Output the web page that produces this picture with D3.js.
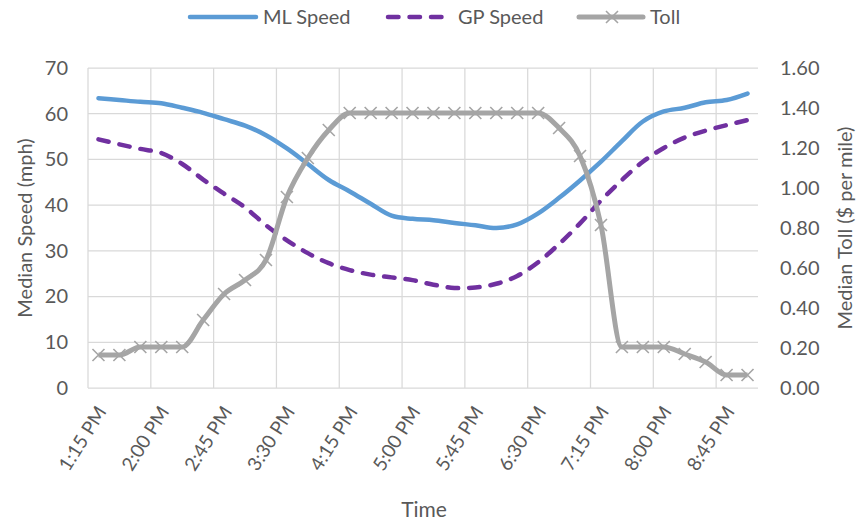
<!DOCTYPE html>
<meta charset="utf-8">
<style>
    body { margin: 0; background: #fff; }
    text { font-family: Lato, "Open Sans", sans-serif; fill: #595959; }
    .grid line { stroke: #d9d9d9; stroke-width: 1.25px; }
    .line { fill: none; }
</style>
<svg width="860" height="522"></svg>
<script src="https://d3js.org/d3.v7.min.js"></script>
<script>

    // categories: one every 15 minutes
    var times = ["1:15 PM", "1:30 PM", "1:45 PM", "2:00 PM", "2:15 PM", "2:30 PM", "2:45 PM", "3:00 PM",
        "3:15 PM", "3:30 PM", "3:45 PM", "4:00 PM", "4:15 PM", "4:30 PM", "4:45 PM", "5:00 PM",
        "5:15 PM", "5:30 PM", "5:45 PM", "6:00 PM", "6:15 PM", "6:30 PM", "6:45 PM", "7:00 PM",
        "7:15 PM", "7:30 PM", "7:45 PM", "8:00 PM", "8:15 PM", "8:30 PM", "8:45 PM", "9:00 PM"];

    // median speeds (mph)
    var mlSpeed = [63.4, 63.0, 62.6, 62.3, 61.3, 60.2, 58.8, 57.4, 55.3, 52.4, 49.0, 45.5,
        43.0, 40.3, 37.7, 37.0, 36.7, 36.1, 35.6, 35.0, 35.8, 38.2, 41.6, 45.4,
        49.5, 54.0, 58.3, 60.5, 61.3, 62.5, 63.0, 64.4];
    var gpSpeed = [54.4, 53.3, 52.3, 51.4, 49.0, 45.6, 42.5, 39.5, 35.6, 32.3, 29.5, 27.3,
        25.8, 24.8, 24.2, 23.6, 22.6, 21.9, 22.0, 22.8, 24.5, 27.5, 31.5, 36.0,
        41.0, 45.5, 49.5, 52.5, 54.8, 56.3, 57.5, 58.6];

    // median toll ($ per mile)
    var toll = [0.165, 0.165, 0.205, 0.205, 0.205, 0.34, 0.47, 0.54, 0.64, 0.955, 1.15, 1.29,
        1.375, 1.375, 1.375, 1.375, 1.375, 1.375, 1.375, 1.375, 1.375, 1.375, 1.30, 1.16,
        0.815, 0.205, 0.205, 0.205, 0.17, 0.13, 0.065, 0.065];

    var speedTicks = [0, 10, 20, 30, 40, 50, 60, 70];
    var tollTicks = [0, 0.2, 0.4, 0.6, 0.8, 1.0, 1.2, 1.4, 1.6];

    var svg = d3.select("svg"),
        margin = {top: 68, right: 102, bottom: 134, left: 88},
        width = svg.attr("width") - margin.left - margin.right,
        height = svg.attr("height") - margin.top - margin.bottom,
        g = svg.append("g").attr("transform", "translate(" + margin.left + "," + margin.top + ")");

    var x = d3.scaleBand().domain(times).range([0, width]).padding(0),
        y = d3.scaleLinear().domain([0, 70]).range([height, 0]),
        y2 = d3.scaleLinear().domain([0, 1.6]).range([height, 0]);

    var cx = function(i) { return x(times[i]) + x.bandwidth() / 2; };

    // gridlines: horizontal at speed ticks, vertical every 3rd category boundary
    var grid = g.append("g").attr("class", "grid");
    grid.selectAll(".h")
        .data(speedTicks)
        .enter().append("line")
        .attr("x1", 0).attr("x2", width)
        .attr("y1", d => y(d)).attr("y2", d => y(d));
    grid.selectAll(".v")
        .data(times.filter((t, i) => i % 3 === 0))
        .enter().append("line")
        .attr("x1", d => x(d)).attr("x2", d => x(d))
        .attr("y1", 0).attr("y2", height);

    // left axis
    var yAxis = g.append("g")
        .call(d3.axisLeft(y).tickValues(speedTicks).tickSize(0).tickPadding(20));
    yAxis.select(".domain").remove();
    yAxis.selectAll("text").attr("font-size", "20px").attr("fill", "#595959").style("font-family", null);

    // right axis
    var y2Axis = g.append("g")
        .attr("transform", "translate(" + width + ",0)")
        .call(d3.axisRight(y2).tickValues(tollTicks).tickSize(0).tickPadding(22).tickFormat(d3.format(".2f")));
    y2Axis.select(".domain").remove();
    y2Axis.selectAll("text").attr("font-size", "20px").attr("fill", "#595959").style("font-family", null);

    // x labels, every third category, rotated
    g.selectAll(".xlabel")
        .data(times.filter((t, i) => i % 3 === 0))
        .enter().append("text")
        .attr("class", "xlabel")
        .attr("transform", d => "translate(" + (x(d) + x.bandwidth() / 2 + 3) + "," + (height + 20) + ") rotate(-58)")
        .attr("text-anchor", "end")
        .attr("dy", "0.35em")
        .attr("font-size", "19px")
        .text(d => d);

    // axis titles
    svg.append("text")
        .attr("transform", "translate(32," + (margin.top + height / 2) + ") rotate(-90)")
        .attr("text-anchor", "middle")
        .attr("font-size", "20px")
        .text("Median Speed (mph)");

    svg.append("text")
        .attr("transform", "translate(852," + (margin.top + height / 2) + ") rotate(-90)")
        .attr("text-anchor", "middle")
        .attr("font-size", "20px")
        .text("Median Toll ($ per mile)");

    svg.append("text")
        .attr("x", 424)
        .attr("y", 517)
        .attr("text-anchor", "middle")
        .attr("font-size", "21px")
        .text("Time");

    // lines
    var speedLine = d3.line()
        .curve(d3.curveCatmullRom.alpha(0.5))
        .x((d, i) => cx(i))
        .y(d => y(d));

    var tollLine = d3.line()
        .curve(d3.curveMonotoneX)
        .x((d, i) => cx(i))
        .y(d => y2(d));

    g.append("path")
        .datum(mlSpeed)
        .attr("class", "line")
        .attr("stroke", "#5b9bd5")
        .attr("stroke-width", 4.5)
        .attr("stroke-linecap", "round")
        .attr("d", speedLine);

    g.append("path")
        .datum(gpSpeed)
        .attr("class", "line")
        .attr("stroke", "#7030a0")
        .attr("stroke-width", 4.5)
        .attr("stroke-linecap", "round")
        .attr("stroke-dasharray", "10.5 11")
        .attr("d", speedLine);

    g.append("path")
        .datum(toll)
        .attr("class", "line")
        .attr("stroke", "#a5a5a5")
        .attr("stroke-width", 5)
        .attr("stroke-linejoin", "round")
        .attr("d", tollLine);

    // x markers on toll
    var cross = "M-6,-6L6,6M-6,6L6,-6";
    g.selectAll(".mark")
        .data(toll)
        .enter().append("path")
        .attr("class", "mark")
        .attr("transform", (d, i) => "translate(" + cx(i) + "," + y2(d) + ")")
        .attr("d", cross)
        .attr("stroke", "#a5a5a5")
        .attr("stroke-width", 1.6)
        .attr("fill", "none");

    // legend
    var legend = svg.append("g").attr("transform", "translate(0,17)");
    legend.append("line")
        .attr("x1", 190).attr("x2", 256).attr("y1", 0).attr("y2", 0)
        .attr("stroke", "#5b9bd5").attr("stroke-width", 4.5).attr("stroke-linecap", "round");
    legend.append("text").attr("x", 263).attr("dy", "0.35em").attr("font-size", "20px").text("ML Speed");

    legend.append("line")
        .attr("x1", 388).attr("x2", 450).attr("y1", 0).attr("y2", 0)
        .attr("stroke", "#7030a0").attr("stroke-width", 4.5).attr("stroke-linecap", "round")
        .attr("stroke-dasharray", "10.5 11");
    legend.append("text").attr("x", 458).attr("dy", "0.35em").attr("font-size", "20px").text("GP Speed");

    legend.append("line")
        .attr("x1", 579).attr("x2", 643).attr("y1", 0).attr("y2", 0)
        .attr("stroke", "#a5a5a5").attr("stroke-width", 5).attr("stroke-linecap", "round");
    legend.append("path")
        .attr("transform", "translate(612,0)")
        .attr("d", cross)
        .attr("stroke", "#a5a5a5").attr("stroke-width", 1.6).attr("fill", "none");
    legend.append("text").attr("x", 650).attr("dy", "0.35em").attr("font-size", "20px").text("Toll");

</script>
